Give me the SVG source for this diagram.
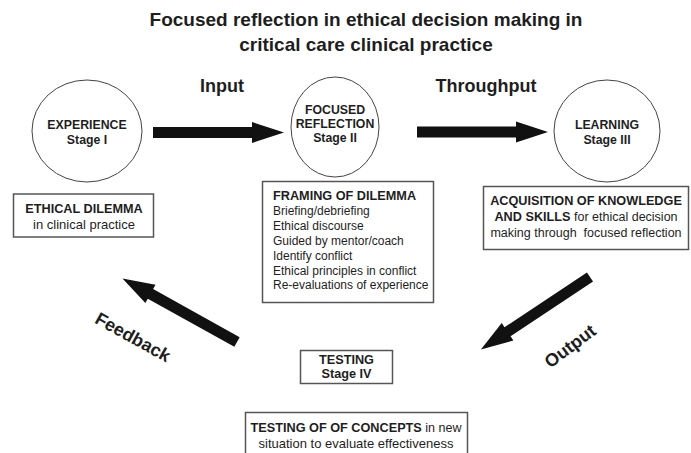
<svg xmlns="http://www.w3.org/2000/svg" width="691" height="453" viewBox="0 0 691 453">
<style>
text{font-family:"Liberation Sans",Arial,sans-serif;fill:#1e1e1e}
.title{font-size:19px;font-weight:bold;text-anchor:middle}
.lab{font-size:18px;font-weight:bold;text-anchor:middle}
.n{font-size:12.5px;text-anchor:middle}
.l{font-size:12px}
.b{font-weight:bold;font-size:12.7px}
.c{font-weight:bold;font-size:12.3px}
.pre{white-space:pre}
.circ{fill:#fff;stroke:#444;stroke-width:1}
.box{fill:#fff;stroke:#555;stroke-width:1.5}
.arr{fill:#111}
</style>
<defs>
<path id="arrow" d="M0,-5.5 H99 V-10.5 L131,0 L99,10.5 V5.5 H0 Z"/>
</defs>
<text class="title" x="366" y="26">Focused reflection in ethical decision making in</text>
<text class="title" x="366" y="51">critical care clinical practice</text>

<g id="connectors">
<use href="#arrow" class="arr" transform="translate(153,132.5)"/>
<use href="#arrow" class="arr" transform="translate(417,132)"/>
<use href="#arrow" class="arr" transform="translate(237,342) rotate(209.05)"/>
<use href="#arrow" class="arr" transform="translate(590,277) rotate(146.4)"/>
<text class="lab" x="222" y="92">Input</text>
<text class="lab" x="486" y="92">Throughput</text>
<text class="lab" x="0" y="0" dy="0.35em" transform="translate(133,337) rotate(29)">Feedback</text>
<text class="lab" x="0" y="0" dy="0.35em" transform="translate(570,346) rotate(-37)">Output</text>
</g>

<g id="experience">
<ellipse class="circ" cx="87" cy="131" rx="55" ry="51"/>
<text class="n c" x="87" y="129">EXPERIENCE</text>
<text class="n c" x="87" y="144">Stage I</text>
</g>
<g id="focused">
<ellipse class="circ" cx="335" cy="127" rx="44" ry="50"/>
<text class="n c" x="335" y="114">FOCUSED</text>
<text class="n c" x="335" y="128">REFLECTION</text>
<text class="n c" x="335" y="142">Stage II</text>
</g>
<g id="learning">
<ellipse class="circ" cx="607" cy="131" rx="53" ry="51"/>
<text class="n c" x="607" y="129">LEARNING</text>
<text class="n c" x="607" y="144">Stage III</text>
</g>
<g id="ethical-dilemma">
<rect class="box" x="13.5" y="194" width="140" height="43"/>
<text class="n b" x="84" y="213">ETHICAL DILEMMA</text>
<text class="n" x="84" y="229" style="font-size:13px">in clinical practice</text>
</g>
<g id="framing">
<rect class="box" x="262.5" y="181.5" width="171" height="121"/>
<text class="l b" x="273" y="200">FRAMING OF DILEMMA</text>
<text class="l" x="273" y="215">Briefing/debriefing</text>
<text class="l" x="273" y="230">Ethical discourse</text>
<text class="l" x="273" y="245">Guided by mentor/coach</text>
<text class="l" x="273" y="259.5">Identify conflict</text>
<text class="l" x="273" y="274.5">Ethical principles in conflict</text>
<text class="l" x="273" y="289">Re-evaluations of experience</text>
</g>
<g id="acquisition">
<rect class="box" x="483.5" y="186.5" width="205" height="63"/>
<text class="n" x="586" y="205"><tspan class="b">ACQUISITION OF KNOWLEDGE</tspan></text>
<text class="n" x="586" y="221"><tspan class="b">AND SKILLS</tspan> for ethical decision</text>
<text class="n pre" x="586" y="237">making through  focused reflection</text>
</g>
<g id="testing">
<rect class="box" x="300.5" y="350.5" width="92" height="33"/>
<text class="n b" x="346.5" y="364">TESTING</text>
<text class="n b" x="346.5" y="378">Stage IV</text>
</g>
<g id="testing-concepts">
<rect class="box" x="245.5" y="412.5" width="222" height="50"/>
<text class="n" x="356" y="432"><tspan class="b">TESTING OF OF CONCEPTS</tspan> in new</text>
<text class="n" x="356" y="448" style="font-size:13px">situation to evaluate effectiveness</text>
</g>
</svg>
